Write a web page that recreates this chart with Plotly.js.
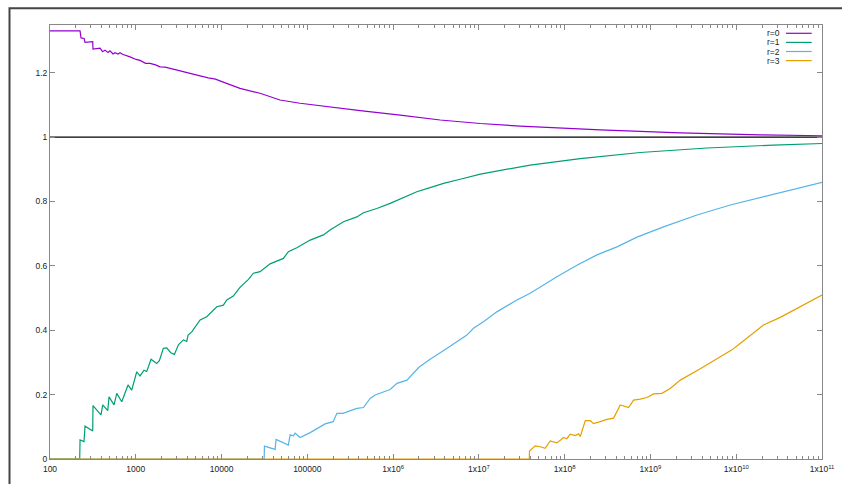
<!DOCTYPE html>
<html>
<head>
<meta charset="utf-8">
<script src="https://cdn.plot.ly/plotly-3.0.1.min.js"></script>
<style>
  html, body { margin: 0; padding: 0; background: #fff; }
  #chart { width: 842px; height: 484px; }
</style>
</head>
<body>
<div id="chart"></div>
<script>
// ---------- data ----------
const seriesNames = ["r=0", "r=1", "r=2", "r=3"];
const seriesColors = ["#9400d3", "#009e73", "#56b4e9", "#e69f00"];

const r0x = [100, 224, 230, 250, 256, 300, 315, 317, 350, 383, 410, 438, 474, 500, 543, 573, 620, 655, 700, 750, 857, 1007, 1122, 1300, 1467, 1700, 1917, 2200, 2512, 2900, 3282, 3800, 4295, 4900, 5623, 7000, 8500, 1.01e4, 1.3e4, 1.64e4, 2.81e4, 4.8e4, 8.24e4, 1.41e5, 4.13e5, 1.21e6, 3.54e6, 1.04e7, 3.03e7, 2.6e8, 2.23e9, 1.91e10, 1e11];
const r0y = [1.330, 1.330, 1.308, 1.306, 1.294, 1.297, 1.296, 1.273, 1.274, 1.276, 1.265, 1.270, 1.263, 1.268, 1.258, 1.262, 1.258, 1.262, 1.257, 1.255, 1.249, 1.241, 1.238, 1.229, 1.229, 1.224, 1.218, 1.217, 1.213, 1.208, 1.204, 1.200, 1.196, 1.194, 1.190, 1.184, 1.180, 1.172, 1.162, 1.151, 1.136, 1.115, 1.105, 1.097, 1.082, 1.068, 1.053, 1.042, 1.034, 1.022, 1.013, 1.007, 1.004];

const r1x = [100, 222, 224, 249, 256, 315, 317, 393, 412, 471, 488, 558, 600, 686, 812, 897, 1026, 1121, 1249, 1342, 1507, 1756, 1883, 2097, 2296, 2557, 2818, 3135, 3282, 3589, 3929, 4071, 4495, 5140, 5623, 6724, 8796, 1.05e4, 1.15e4, 1.37e4, 1.64e4, 2.06e4, 2.35e4, 2.81e4, 3.68e4, 5.26e4, 6.01e4, 7.54e4, 1.08e5, 1.54e5, 1.84e5, 2.64e5, 3.78e5, 4.51e5, 6.46e5, 9.23e5, 1.32e6, 1.89e6, 2.7e6, 3.87e6, 6.05e6, 1.04e7, 3.96e7, 1.52e8, 7.6e8, 2.23e9, 4.56e9, 2.71e10, 1e11];
const r1y = [0, 0, 0.059, 0.054, 0.102, 0.087, 0.166, 0.137, 0.168, 0.150, 0.193, 0.168, 0.204, 0.178, 0.230, 0.214, 0.271, 0.258, 0.276, 0.272, 0.310, 0.297, 0.305, 0.344, 0.345, 0.330, 0.325, 0.354, 0.360, 0.370, 0.365, 0.385, 0.395, 0.416, 0.432, 0.442, 0.473, 0.478, 0.494, 0.506, 0.533, 0.558, 0.577, 0.582, 0.606, 0.623, 0.644, 0.656, 0.680, 0.696, 0.711, 0.737, 0.752, 0.765, 0.778, 0.794, 0.813, 0.830, 0.843, 0.856, 0.869, 0.885, 0.913, 0.933, 0.952, 0.960, 0.966, 0.975, 0.980];

const r2x = [100, 3.14e4, 3.16e4, 4.21e4, 4.32e4, 6.01e4, 6.3e4, 6.88e4, 7.2e4, 8.24e4, 1.08e5, 1.41e5, 1.61e5, 2.0e5, 2.21e5, 2.61e5, 3.16e5, 3.78e5, 4.51e5, 5.4e5, 6.17e5, 7.71e5, 9.23e5, 1.11e6, 1.45e6, 2.0e6, 2.7e6, 4.05e6, 5.54e6, 7.24e6, 8.65e6, 1.13e7, 1.62e7, 2.77e7, 3.96e7, 5.19e7, 8.12e7, 1.39e8, 2.38e8, 4.07e8, 6.97e8, 1.42e9, 3.49e9, 8.54e9, 2.08e10, 5.12e10, 1e11];
const r2y = [0, 0, 0.040, 0.030, 0.061, 0.043, 0.075, 0.072, 0.080, 0.067, 0.082, 0.100, 0.109, 0.116, 0.142, 0.142, 0.150, 0.157, 0.160, 0.188, 0.199, 0.209, 0.216, 0.235, 0.245, 0.285, 0.310, 0.340, 0.364, 0.385, 0.406, 0.426, 0.457, 0.494, 0.515, 0.535, 0.566, 0.602, 0.634, 0.659, 0.689, 0.721, 0.758, 0.789, 0.815, 0.841, 0.859];

const r3x = [100, 3.87e7, 3.89e7, 4.54e7, 5.19e7, 5.93e7, 6.79e7, 8.12e7, 8.88e7, 9.7e7, 1.06e8, 1.16e8, 1.33e8, 1.45e8, 1.52e8, 1.74e8, 1.99e8, 2.17e8, 2.6e8, 3.11e8, 3.72e8, 4.45e8, 5.56e8, 6.36e8, 7.6e8, 9.1e8, 1.09e9, 1.36e9, 1.7e9, 2.23e9, 3.81e9, 6.52e9, 8.92e9, 1.11e10, 2.08e10, 3.26e10, 5.12e10, 1e11];
const r3y = [0, 0, 0.025, 0.041, 0.038, 0.033, 0.056, 0.050, 0.058, 0.067, 0.063, 0.077, 0.073, 0.078, 0.070, 0.119, 0.119, 0.110, 0.116, 0.123, 0.127, 0.168, 0.160, 0.183, 0.186, 0.191, 0.202, 0.204, 0.219, 0.245, 0.280, 0.318, 0.339, 0.359, 0.416, 0.440, 0.468, 0.509];

const xTickVals = [1e2, 1e3, 1e4, 1e5, 1e6, 1e7, 1e8, 1e9, 1e10, 1e11];
const xTickText = ["100", "1000", "10000", "100000", "1x10<sup>6</sup>", "1x10<sup>7</sup>", "1x10<sup>8</sup>", "1x10<sup>9</sup>", "1x10<sup>10</sup>", "1x10<sup>11</sup>"];
const refLineValue = 1;

// ---------- build ----------
const xs = [r0x, r1x, r2x, r3x];
const ys = [r0y, r1y, r2y, r3y];
const traces = xs.map((x, i) => ({
  type: "scatter", mode: "lines", x: x, y: ys[i], name: seriesNames[i],
  line: { color: seriesColors[i], width: 1.2 }, showlegend: false, hoverinfo: "skip"
}));

const minorVals = [];
for (let d = 2; d < 11; d++) for (let k = 2; k <= 9; k++) minorVals.push(k * Math.pow(10, d));

const W = 842, H = 484, L = 50, R = 20, T = 25, B = 25;
const pw = W - L - R, ph = H - T - B;
const px2x = p => (p - L) / pw;
const px2y = p => 1 - (p - T) / ph;

const font = { family: "Liberation Sans, Arial, sans-serif", size: 8.5, color: "#222" };

const shapes = [
  { type: "line", xref: "paper", yref: "y", x0: 0, x1: 1, y0: refLineValue, y1: refLineValue,
    line: { color: "#000", width: 1.2 }, layer: "below" },
  { type: "rect", xref: "paper", yref: "paper", x0: px2x(9.5), x1: px2x(870), y0: px2y(520), y1: px2y(8.2),
    line: { color: "#444", width: 2 }, fillcolor: "rgba(0,0,0,0)" }
];
const annotations = [];
seriesNames.forEach((n, i) => {
  const yc = px2y(33.3 + i * 9.1);
  annotations.push({ xref: "paper", yref: "paper", x: px2x(781.5), y: yc, xanchor: "right", yanchor: "middle",
    text: n, showarrow: false, font: font });
  shapes.push({ type: "line", xref: "paper", yref: "paper", x0: px2x(786), x1: px2x(811.7), y0: yc, y1: yc,
    line: { color: seriesColors[i], width: 1.2 } });
});

const layout = {
  width: W, height: H,
  margin: { l: L, r: R, t: T, b: B, pad: 0 },
  paper_bgcolor: "#fff", plot_bgcolor: "#fff",
  font: font,
  showlegend: false,
  xaxis: {
    type: "log", range: [2, 11], tickmode: "array", tickvals: xTickVals, ticktext: xTickText,
    ticks: "inside", ticklen: 5, tickwidth: 1, tickcolor: "#888",
    showline: true, linecolor: "#888", linewidth: 1, mirror: "ticks",
    showgrid: false, zeroline: false, tickfont: font, ticklabelstandoff: 2,
    minor: { tickmode: "array", tickvals: minorVals, ticks: "inside", ticklen: 3, tickcolor: "#888", tickwidth: 1, showgrid: false }
  },
  yaxis: {
    range: [0, 1.348], tickmode: "linear", tick0: 0, dtick: 0.2,
    ticks: "inside", ticklen: 5, tickwidth: 1, tickcolor: "#888",
    showline: true, linecolor: "#888", linewidth: 1, mirror: "ticks",
    showgrid: false, zeroline: false, tickfont: font
  },
  shapes: shapes,
  annotations: annotations
};

Plotly.newPlot("chart", traces, layout, { staticPlot: true, displayModeBar: false });
</script>
</body>
</html>
